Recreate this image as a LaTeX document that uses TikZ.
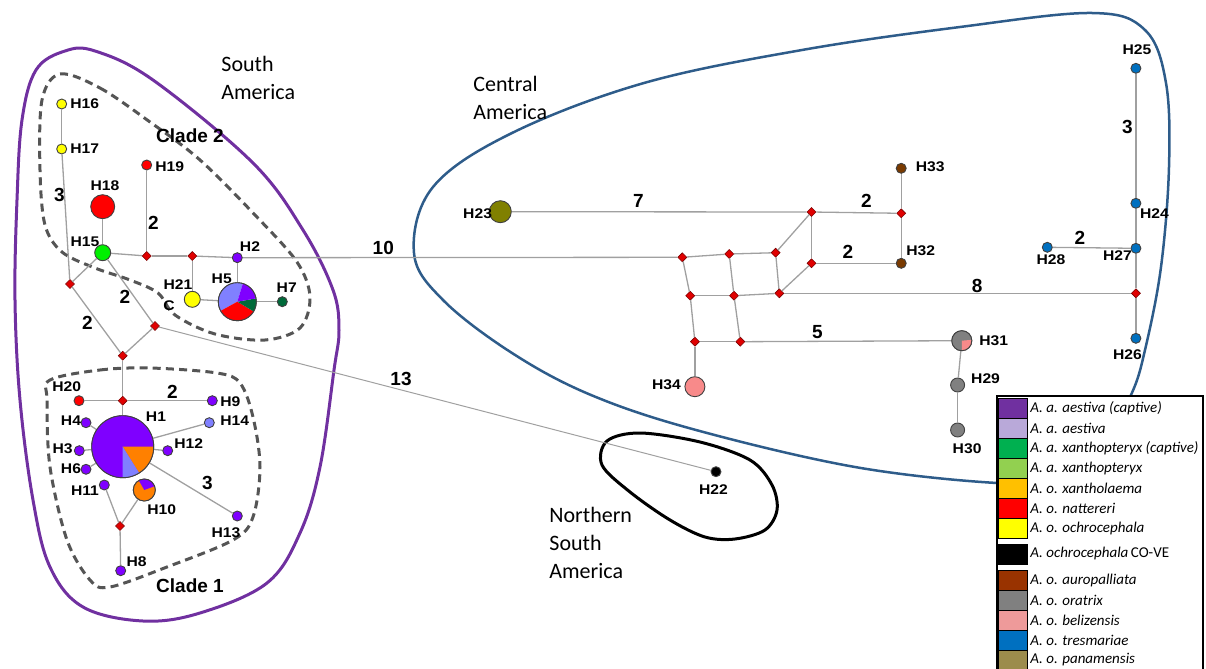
\documentclass[tikz,border=0pt]{standalone}
\usepackage{fontspec}
\setmainfont{Carlito}
\newfontfamily\lblfont{Liberation Sans}[FakeStretch=1.12]
\newfontfamily\numfont{Liberation Sans}
\usetikzlibrary{shapes.geometric}
\definecolor{edgegray}{HTML}{A0A0A0}
\definecolor{medred}{HTML}{E00000}
\definecolor{purN}{HTML}{7F00FF}
\definecolor{periN}{HTML}{8080FF}
\definecolor{grnL}{HTML}{00F000}
\definecolor{grnD}{HTML}{006A3A}
\definecolor{redN}{HTML}{FF0000}
\definecolor{yelN}{HTML}{FFFF00}
\definecolor{oraN}{HTML}{FF8000}
\definecolor{broN}{HTML}{7A3A00}
\definecolor{graN}{HTML}{808080}
\definecolor{pinN}{HTML}{F88A8A}
\definecolor{bluN}{HTML}{0070C0}
\definecolor{oliN}{HTML}{808000}
\definecolor{saPurple}{HTML}{7030A0}
\definecolor{caBlue}{HTML}{2E5C8A}
\definecolor{dashGray}{HTML}{555555}
\definecolor{lgA}{HTML}{7030A0}
\definecolor{lgB}{HTML}{B9A9D9}
\definecolor{lgC}{HTML}{00B050}
\definecolor{lgD}{HTML}{92D050}
\definecolor{lgE}{HTML}{FFC000}
\definecolor{lgF}{HTML}{FF0000}
\definecolor{lgG}{HTML}{FFFF00}
\definecolor{lgH}{HTML}{000000}
\definecolor{lgI}{HTML}{993300}
\definecolor{lgJ}{HTML}{808080}
\definecolor{lgK}{HTML}{EE9A9A}
\definecolor{lgL}{HTML}{0070C0}
\definecolor{lgM}{HTML}{9C8C4C}
\newcommand\pieslc[5]{\fill[#5] (#1.center) -- ++(#3:#2) arc[start angle=#3, end angle=#4, radius=#2] -- cycle;}
\tikzset{
  edge/.style={draw=edgegray, line width=0.65pt},
  hap/.style={circle, draw=black!75, line width=0.45pt, inner sep=0pt, minimum size=#1},
  hap/.default=5pt,
  med/.style={diamond, fill=medred, draw=medred!55!black, line width=0.3pt, inner sep=0pt, minimum size=4.6pt},
  hl/.style={font=\lblfont\bfseries\fontsize{7}{7}\selectfont, inner sep=0pt},
  nl/.style={font=\numfont\bfseries\fontsize{9.5}{10}\selectfont, inner sep=0pt},
  rl/.style={font=\fontsize{11}{14}\selectfont, align=left, inner sep=0pt, anchor=west},
  lg/.style={font=\itshape\fontsize{7.5}{8}\selectfont, anchor=west, inner sep=0pt},
  sw/.style={draw=black, line width=0.5pt},
  region/.style={line width=1.5pt},
  clade/.style={draw=dashGray, line width=1.5pt, dash pattern=on 4pt off 2.6pt},
}
\begin{document}
\begin{tikzpicture}[x=0.5pt, y=-0.5pt]
\useasboundingbox (0,0) rectangle (1206,669);
\begin{scope}
\clip (0,0) rectangle (1206,669);

% ---------- region outlines ----------
\draw[region, draw=saPurple] plot[smooth cycle, tension=0.6] coordinates {
  (17,200) (22,120) (36,70) (65,51) (95,51) (153,80) (253,163) (303,230)
  (333,290) (339,330) (334,370) (320,467) (300,533) (267,583) (200,613)
  (143,621) (83,607) (50,567) (33,500) (20,400) (15,300)};
\draw[region, draw=caBlue, line width=1.25pt] plot[smooth cycle, tension=0.6] coordinates {
  (997,483) (855,467) (696,430) (591,395) (512,353) (443,300) (414,253)
  (433,187) (512,133) (644,83) (802,50) (960,27) (1092,13) (1145,30)
  (1166,83) (1169,167) (1161,267) (1145,350) (1131,395) (1100,450) (1050,478)};
\draw[region, draw=black] plot[smooth cycle, tension=0.55] coordinates {
  (607,441) (640,433) (700,442) (750,460) (772,485) (777,510) (765,530)
  (735,539) (705,537) (670,520) (630,492) (602,465)};

% ---------- clade outlines ----------
\draw[clade] plot[smooth cycle, tension=0.55] coordinates {
  (60,74) (100,88) (150,122) (200,160) (255,215) (297,262) (310,297)
  (300,328) (265,340) (215,334) (175,315) (158,293) (130,280) (95,268)
  (62,252) (45,225) (40,170) (42,100)};
\draw[clade] plot[smooth cycle, tension=0.55] coordinates {
  (50,380) (100,370) (150,368) (217,373) (240,383) (253,417) (260,467)
  (253,517) (233,540) (167,567) (110,587) (90,580) (67,540) (50,467) (47,400)};

% ---------- nodes: South America ----------
\node[hap, fill=yelN] (H16) at (61.7,104) {};
\node[hap, fill=yelN] (H17) at (61.7,149) {};
\node[hap=12pt, fill=redN] (H18) at (102.7,206.7) {};
\node[hap, fill=redN] (H19) at (146.7,165) {};
\node[hap=8pt, fill=grnL] (H15) at (102.7,252.7) {};
\node[med] (m1) at (146.7,256) {};
\node[med] (m2) at (192.3,256) {};
\node[hap, fill=purN] (H2) at (237.3,257.7) {};
\node[hap=8pt, fill=yelN] (H21) at (192.3,299.3) {};
\node[hap=19pt] (H5) at (237.3,301.7) {};
\node[hap, fill=grnD] (H7) at (282.3,301.7) {};
\node[med] (m3) at (70,284) {};
\node[med] (m4) at (155,326) {};
\node[med] (m5) at (122.7,355.7) {};
\node[hap, fill=redN] (H20) at (79,400.7) {};
\node[med] (m6) at (122.7,400.7) {};
\node[hap, fill=purN] (H9) at (212.3,400.7) {};
\node[hap, fill=purN] (H4) at (86,422.7) {};
\node[hap, fill=periN] (H14) at (209.3,422.7) {};
\node[hap=31pt] (H1) at (122.7,446.7) {};
\node[hap, fill=purN] (H3) at (79.3,450.7) {};
\node[hap, fill=purN] (H12) at (167.7,450.7) {};
\node[hap, fill=purN] (H6) at (86,469.3) {};
\node[hap, fill=purN] (H11) at (104.3,485) {};
\node[hap=11pt] (H10) at (144.3,490) {};
\node[med] (m7) at (120,526) {};
\node[hap, fill=purN] (H13) at (237.3,516) {};
\node[hap, fill=purN] (H8) at (120.7,570.7) {};

% ---------- nodes: Central America ----------
\node[hap=11pt, fill=oliN] (H23) at (500.3,211.7) {};
\node[med] (mA) at (811.5,212) {};
\node[med] (mB) at (901.2,213.3) {};
\node[hap, fill=broN] (H33) at (901.2,168.3) {};
\node[hap, fill=broN] (H32) at (901.2,263.3) {};
\node[med] (mC) at (811.5,263.3) {};
\node[med] (mD) at (775.6,252.7) {};
\node[med] (mF) at (729.2,254) {};
\node[med] (mcl) at (682.3,257.3) {};
\node[med] (mG) at (690.2,295.7) {};
\node[med] (mH) at (734,295.7) {};
\node[med] (mE) at (779.3,293.3) {};
\node[med] (mR) at (1135.9,293.3) {};
\node[med] (mI) at (694.9,341.7) {};
\node[med] (mJ) at (740.3,341.7) {};
\node[hap=10pt] (H31) at (961.8,340.7) {};
\node[hap=10pt, fill=pinN] (H34) at (694.9,386.7) {};
\node[hap=7pt, fill=graN] (H29) at (957.6,385) {};
\node[hap=7pt, fill=graN] (H30) at (957.6,430) {};
\node[hap, fill=black] (H22) at (716,471.7) {};
\node[hap, fill=bluN] (H25) at (1135.9,68.3) {};
\node[hap, fill=bluN] (H24) at (1135.9,203.3) {};
\node[hap, fill=bluN] (H27) at (1135.9,248.3) {};
\node[hap, fill=bluN] (H28) at (1047.3,247.3) {};
\node[hap, fill=bluN] (H26) at (1135.9,338.3) {};

% ---------- edges ----------
\draw[edge] (H16) -- (H17);
\draw[edge] (H17) -- (m3);
\draw[edge] (m3) -- (H15);
\draw[edge] (H15) -- (H18);
\draw[edge] (H15) -- (m1);
\draw[edge] (m1) -- (H19);
\draw[edge] (m1) -- (m2);
\draw[edge] (m2) -- (H2);
\draw[edge] (m2) -- (H21);
\draw[edge] (H21) -- (H5);
\draw[edge] (H2) -- (H5);
\draw[edge] (H5) -- (H7);
\draw[edge] (H2) -- (mcl);
\draw[edge] (H15) -- (m4);
\draw[edge] (m3) -- (m5);
\draw[edge] (m4) -- (m5);
\draw[edge, line width=0.5pt] (m4) -- (H22);
\draw[edge] (m5) -- (m6);
\draw[edge] (H20) -- (m6);
\draw[edge] (m6) -- (H9);
\draw[edge] (m6) -- (H1);
\draw[edge] (H1) -- (H4);
\draw[edge] (H1) -- (H3);
\draw[edge] (H1) -- (H6);
\draw[edge] (H1) -- (H12);
\draw[edge] (H1) -- (H14);
\draw[edge] (H1) -- (H13);
\draw[edge] (H11) -- (m7);
\draw[edge] (H10) -- (m7);
\draw[edge] (m7) -- (H8);
\draw[edge] (mcl) -- (mF);
\draw[edge] (mF) -- (mD);
\draw[edge] (mD) -- (mA);
\draw[edge] (mA) -- (mC);
\draw[edge] (mD) -- (mE);
\draw[edge] (mC) -- (mE);
\draw[edge] (mcl) -- (mG);
\draw[edge] (mF) -- (mH);
\draw[edge] (mG) -- (mH);
\draw[edge] (mH) -- (mE);
\draw[edge] (mG) -- (mI);
\draw[edge] (mH) -- (mJ);
\draw[edge] (mI) -- (mJ);
\draw[edge] (mJ) -- (H31);
\draw[edge] (mI) -- (H34);
\draw[edge] (H31) -- (H29);
\draw[edge] (H29) -- (H30);
\draw[edge] (H23) -- (mA);
\draw[edge] (mA) -- (mB);
\draw[edge] (mB) -- (H33);
\draw[edge] (mB) -- (H32);
\draw[edge] (mC) -- (H32);
\draw[edge] (mE) -- (mR);
\draw[edge] (mR) -- (H27);
\draw[edge] (mR) -- (H26);
\draw[edge] (H27) -- (H24);
\draw[edge] (H24) -- (H25);
\draw[edge] (H28) -- (H27);

% ---------- pie charts ----------
\pieslc{H1}{15.5pt}{0}{360}{purN}
\pieslc{H1}{15.5pt}{-58}{0}{oraN}
\pieslc{H1}{15.5pt}{-90}{-58}{periN}
\draw[black!75, line width=0.45pt] (H1.center) circle[radius=15.5pt];
\pieslc{H5}{9.5pt}{73}{209}{periN}
\pieslc{H5}{9.5pt}{209}{329}{redN}
\pieslc{H5}{9.5pt}{329}{370}{grnD}
\pieslc{H5}{9.5pt}{10}{73}{purN}
\draw[black!75, line width=0.45pt] (H5.center) circle[radius=9.5pt];
\pieslc{H10}{5.5pt}{0}{360}{oraN}
\pieslc{H10}{5.5pt}{20}{120}{purN}
\draw[black!75, line width=0.45pt] (H10.center) circle[radius=5.5pt];
\pieslc{H31}{5pt}{0}{360}{graN}
\pieslc{H31}{5pt}{-90}{5}{pinN}
\draw[black!75, line width=0.45pt] (H31.center) circle[radius=5pt];

% ---------- haplotype labels ----------
\node[hl, anchor=west] (t16) at (70,104) {H16};
\node[hl, anchor=west] (t17) at (70,149) {H17};
\node[hl] (t18) at (105,186) {H18};
\node[hl, anchor=west] (t19) at (155,167) {H19};
\node[hl] (t15) at (85,242) {H15};
\node[hl] (t2) at (250,247) {H2};
\node[hl] (t21) at (178,285) {H21};
\node[hl] (t5) at (221.7,279) {H5};
\node[hl] (t7) at (286.7,288) {H7};
\node[hl] (tC) at (169,306) {C};
\node[hl] (t20) at (66.7,387) {H20};
\node[hl, anchor=west] (t9) at (220,401.7) {H9};
\node[hl] (t4) at (71,421) {H4};
\node[hl, anchor=west] (t14) at (220,421) {H14};
\node[hl] (t1) at (156,416.7) {H1};
\node[hl] (t3) at (62.7,449) {H3};
\node[hl, anchor=west] (t12) at (174,444) {H12};
\node[hl] (t6) at (71,468.3) {H6};
\node[hl] (t11) at (85,490.7) {H11};
\node[hl] (t10) at (161.7,510) {H10};
\node[hl] (t13) at (226,532.3) {H13};
\node[hl] (t8) at (136.7,561.7) {H8};
\node[hl] (t23) at (477.6,213.3) {H23};
\node[hl, anchor=west] (t33) at (915.4,166.7) {H33};
\node[hl] (t32) at (920.7,251) {H32};
\node[hl, anchor=west] (t31) at (979,340.7) {H31};
\node[hl] (t34) at (666.4,385) {H34};
\node[hl, anchor=west] (t29) at (970.8,379) {H29};
\node[hl] (t30) at (967.1,448.3) {H30};
\node[hl] (t22) at (713.4,490) {H22};
\node[hl] (t25) at (1137,50) {H25};
\node[hl] (t24) at (1154.4,213.3) {H24};
\node[hl] (t28) at (1051,260) {H28};
\node[hl] (t27) at (1117.5,256) {H27};
\node[hl] (t26) at (1127.5,355) {H26};

% ---------- clade labels and mutation counts ----------
\node[nl] (c1) at (190,586) {Clade 1};
\node[nl] (c2) at (190,136) {Clade 2};
\node[nl] (n1) at (59.3,195) {3};
\node[nl] (n2) at (153.3,222.7) {2};
\node[nl] (n3) at (125,296.7) {2};
\node[nl] (n4) at (87.3,323.3) {2};
\node[nl] (n5) at (172.3,391.7) {2};
\node[nl] (n6) at (207.3,482.7) {3};
\node[nl] (n7) at (383.3,248.3) {10};
\node[nl] (n8) at (401,379.3) {13};
\node[nl] (n9) at (638.5,201) {7};
\node[nl] (n10) at (866.4,201) {2};
\node[nl] (n11) at (847.9,251.7) {2};
\node[nl] (n12) at (977.1,285.7) {8};
\node[nl] (n13) at (817.3,332.3) {5};
\node[nl] (n14) at (1127.5,126.7) {3};
\node[nl] (n15) at (1080,238.3) {2};

% ---------- region labels ----------
\node[rl] (rSA) at (221,77.5) {South\\America};
\node[rl] (rCA) at (473,97.5) {Central\\America};
\node[rl] (rNSA) at (549,543) {Northern\\South\\America};

% ---------- legend ----------
\fill[white] (997,396) rectangle (1210,680);
\draw[line width=1pt] (997,680) -- (997,396) -- (1203,396) -- (1203,680);
\foreach \c/\ya/\yb/\yt/\txt [count=\i] in {
  lgA/398/418/408/{A. a. aestiva (captive)},
  lgB/418/438/428/{A. a. aestiva},
  lgC/438/458/448/{A. a. xanthopteryx (captive)},
  lgD/458/478/468/{A. a. xanthopteryx},
  lgE/478/498/488/{A. o. xantholaema},
  lgF/498/518/508/{A. o. nattereri},
  lgG/518/538/528/{A. o. ochrocephala},
  lgH/544/564/553/{A. ochrocephala\,\textup{CO-VE}},
  lgI/570/590/580/{A. o. auropalliata},
  lgJ/590/610/600/{A. o. oratrix},
  lgK/610/630/620/{A. o. belizensis},
  lgL/630/650/640/{A. o. tresmariae},
  lgM/650/670/660/{A. o. panamensis}} {
  \filldraw[sw, fill=\c] (998,\ya) rectangle (1027,\yb);
  \node[lg] (lg\i) at (1030,\yt) {\txt};
}
\end{scope}
\end{tikzpicture}
\end{document}
